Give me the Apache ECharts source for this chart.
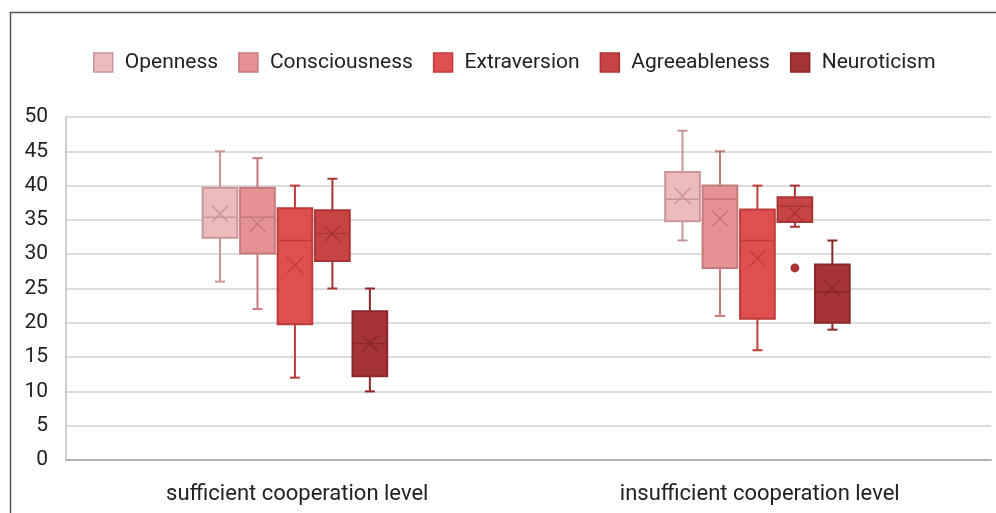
<!DOCTYPE html>
<html>
<head>
<meta charset="utf-8">
<title>Personality traits by cooperation level</title>
<script src="https://cdn.jsdelivr.net/npm/echarts@6/dist/echarts.min.js"></script>
<style>
  html, body { margin: 0; padding: 0; background: #fff; }
  #chart { width: 996px; height: 513px; }
</style>
</head>
<body>
<div id="chart"></div>
<script>
// categories on the x axis
var categories = ['sufficient cooperation level', 'insufficient cooperation level'];
var traits = ['Openness', 'Consciousness', 'Extraversion', 'Agreeableness', 'Neuroticism'];
var yTicks = [0, 5, 10, 15, 20, 25, 30, 35, 40, 45, 50];

// [min, q1, median, q3, max, mean] per category
var openness      = [[26, 32.4, 35.4, 39.7, 45, 35.9], [32, 34.8, 38, 42, 48, 38.5]];
var consciousness = [[22, 30.1, 35.4, 39.7, 44, 34.4], [21, 28, 38, 40, 45, 35.2]];
var extraversion  = [[12, 19.8, 32, 36.7, 40, 28.4], [16, 20.6, 32, 36.5, 40, 29.4]];
var agreeableness = [[25, 29, 33, 36.4, 41, 33], [34, 34.7, 37, 38.3, 40, 36]];
var neuroticism   = [[10, 12.2, 17, 21.7, 25, 17], [19, 20, 24.5, 28.5, 32, 25.1]];

// outlier points: [category index, value]
var agreeablenessOutliers = [[1, 28]];

var statsList = [openness, consciousness, extraversion, agreeableness, neuroticism];
var outlierList = [[], [], [], agreeablenessOutliers, []];

var fills   = ['#ecbcbd', '#e59292', '#de4f4f', '#c84444', '#a73434'];
var strokes = ['#c9969a', '#c77a7b', '#c03b3c', '#a83434', '#8a2828'];

var chart = echarts.init(document.getElementById('chart'));

function renderBox(params, api) {
  var s = params.seriesIndex;
  var cat = api.value(0);
  var band = api.size([1, 0])[0];
  var step = band * 0.081;
  var bw = band * 0.075;
  var cx = api.coord([cat, 0])[0] + (s - 2) * step - band * 0.005;
  var y = function (v) { return api.coord([cat, v])[1]; };
  var lo = y(api.value(1)), q1 = y(api.value(2)), md = y(api.value(3));
  var q3 = y(api.value(4)), hi = y(api.value(5)), mn = y(api.value(6));
  var stroke = strokes[s], fill = fills[s];
  var lineStyle = { stroke: stroke, lineWidth: 2, fill: null };
  var cap = 5, xs = 8;
  var children = [
    { type: 'line', shape: { x1: cx, y1: hi, x2: cx, y2: q3 }, style: lineStyle },
    { type: 'line', shape: { x1: cx, y1: q1, x2: cx, y2: lo }, style: lineStyle },
    { type: 'line', shape: { x1: cx - cap, y1: hi, x2: cx + cap, y2: hi }, style: lineStyle },
    { type: 'line', shape: { x1: cx - cap, y1: lo, x2: cx + cap, y2: lo }, style: lineStyle },
    { type: 'rect', shape: { x: cx - bw / 2, y: q3, width: bw, height: q1 - q3 },
      style: { fill: fill, stroke: stroke, lineWidth: 2 } },
    { type: 'line', shape: { x1: cx - bw / 2, y1: md, x2: cx + bw / 2, y2: md },
      style: { stroke: stroke, lineWidth: 1.5 } },
    { type: 'line', shape: { x1: cx - xs, y1: mn - xs, x2: cx + xs, y2: mn + xs },
      style: { stroke: stroke, lineWidth: 1.5 } },
    { type: 'line', shape: { x1: cx - xs, y1: mn + xs, x2: cx + xs, y2: mn - xs },
      style: { stroke: stroke, lineWidth: 1.5 } }
  ];
  outlierList[s].forEach(function (o) {
    if (o[0] === cat) {
      children.push({ type: 'circle', shape: { cx: cx, cy: y(o[1]), r: 4.5 },
        style: { fill: stroke } });
    }
  });
  return { type: 'group', children: children };
}

var series = traits.map(function (name, i) {
  return {
    name: name,
    type: 'custom',
    renderItem: renderBox,
    itemStyle: { color: fills[i], borderColor: strokes[i] },
    encode: { x: 0, y: [1, 2, 3, 4, 5, 6] },
    data: statsList[i].map(function (d, c) { return [c].concat(d); }),
    z: 3
  };
});

var option = {
  animation: false,
  textStyle: { fontFamily: 'Roboto', color: '#222' },
  graphic: [{
    type: 'rect',
    left: 8, top: 10,
    shape: { width: 1100, height: 600 },
    style: { fill: null, stroke: '#555', lineWidth: 1.5 },
    silent: true
  }],
  legend: {
    left: 88, top: 47,
    icon: 'rect',
    itemWidth: 19, itemHeight: 19,
    itemGap: 20,
    textStyle: { fontSize: 21, color: '#222', fontFamily: 'Roboto', padding: [0, 0, 0, 7] },
    data: traits.map(function (t, i) {
      return { name: t, itemStyle: { color: fills[i], borderColor: strokes[i], borderWidth: 1.5 } };
    })
  },
  grid: { left: 66, right: 5, top: 117, bottom: 53 },
  xAxis: {
    type: 'category',
    data: categories,
    axisTick: { show: false },
    axisLine: { lineStyle: { color: '#b0b0b0', width: 2 } },
    axisLabel: { fontSize: 22, color: '#222', margin: 23 }
  },
  yAxis: {
    type: 'value',
    min: yTicks[0], max: yTicks[yTicks.length - 1], interval: 5,
    axisLine: { show: true, lineStyle: { color: '#c0c0c0', width: 1.5 } },
    axisTick: { show: false },
    axisLabel: { fontSize: 21, color: '#222', margin: 18 },
    splitLine: { lineStyle: { color: '#dcdcdc', width: 2 } }
  },
  series: series
};

chart.setOption(option);
</script>
</body>
</html>
